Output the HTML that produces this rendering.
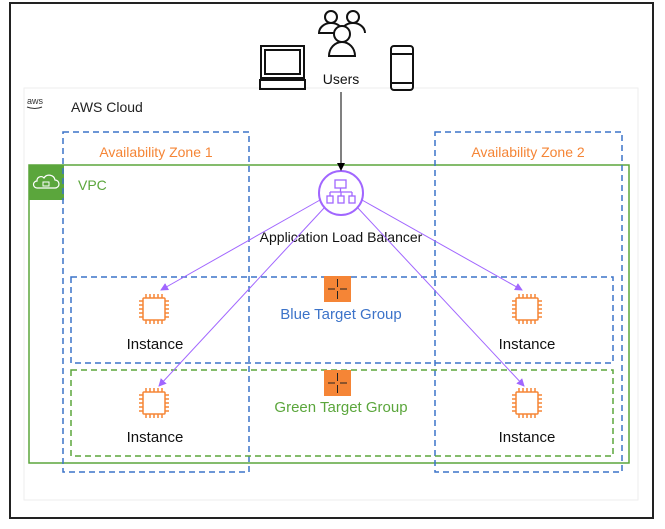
<!DOCTYPE html>
<html><head><style>
body{margin:0;background:#fff;}
svg text{font-family:"Liberation Sans",sans-serif;}
</style></head><body>
<svg width="665" height="524" viewBox="0 0 665 524" xmlns="http://www.w3.org/2000/svg">
<defs>
<marker id="ap" markerWidth="8" markerHeight="8" refX="7" refY="4" orient="auto" markerUnits="userSpaceOnUse"><path d="M0,0 L8,4 L0,8 z" fill="#a166ff"/></marker>
<marker id="ab" markerWidth="8" markerHeight="8" refX="7" refY="4" orient="auto" markerUnits="userSpaceOnUse"><path d="M0,0 L8,4 L0,8 z" fill="#000"/></marker>
<g id="chip" fill="none" stroke="#f58536" stroke-width="1.5">
<rect x="-11" y="-11" width="22" height="22" rx="1"/>
<path d="M-8,-11v-4M-4,-11v-4M0,-11v-4M4,-11v-4M8,-11v-4M-8,11v4M-4,11v4M0,11v4M4,11v4M8,11v4M-11,-8h-4M-11,-4h-4M-11,0h-4M-11,4h-4M-11,8h-4M11,-8h4M11,-4h4M11,0h4M11,4h4M11,8h4"/>
</g>
<g id="tg">
<rect x="0" y="0" width="27" height="26" fill="#f58536"/>
<path d="M13.5,3v8M13.5,15v8M4,13h7M16,13h7" stroke="#222" stroke-width="1"/>
</g>
</defs>
<rect x="10" y="3" width="643" height="515" fill="#fff" stroke="#222" stroke-width="2"/>
<rect x="24" y="88" width="614" height="412" fill="none" stroke="#eee" stroke-width="1"/>
<text x="27" y="104" font-size="9" fill="#333">aws</text>
<path d="M27,107 q8,3 15,0" stroke="#333" fill="none" stroke-width="1"/>
<text x="71" y="112" font-size="14" fill="#222">AWS Cloud</text>
<rect x="29" y="165" width="600" height="298" fill="none" stroke="#5ba63c" stroke-width="1.5"/>
<rect x="29" y="165" width="35" height="35" fill="#5ba63c"/>
<path d="M37,188 h18 a4,4 0 0 0 0,-8 a6,6 0 0 0 -11,-2 a4,4 0 0 0 -7,3 a3.5,3.5 0 0 0 0,7z" fill="none" stroke="#fff" stroke-width="1.2"/>
<rect x="43" y="182" width="6" height="4" fill="none" stroke="#fff" stroke-width="1"/>
<text x="78" y="190" font-size="14" fill="#5ba63c">VPC</text>
<rect x="63" y="132" width="186" height="340" fill="none" stroke="#3c73c9" stroke-width="1.5" stroke-dasharray="6,4"/>
<rect x="435" y="132" width="187" height="340" fill="none" stroke="#3c73c9" stroke-width="1.5" stroke-dasharray="6,4"/>
<text x="156" y="157" font-size="14" fill="#f58536" text-anchor="middle">Availability Zone 1</text>
<text x="528" y="157" font-size="14" fill="#f58536" text-anchor="middle">Availability Zone 2</text>
<rect x="71" y="277" width="542" height="86" fill="none" stroke="#3c73c9" stroke-width="1.5" stroke-dasharray="6,4"/>
<rect x="71" y="370" width="542" height="86" fill="none" stroke="#5ba63c" stroke-width="1.5" stroke-dasharray="6,4"/>
<use href="#tg" x="324" y="276"/>
<use href="#tg" x="324" y="370"/>
<text x="341" y="319" font-size="15" fill="#3c73c9" text-anchor="middle">Blue Target Group</text>
<text x="341" y="412" font-size="15" fill="#5ba63c" text-anchor="middle">Green Target Group</text>
<use href="#chip" x="154" y="309"/>
<use href="#chip" x="527" y="309"/>
<use href="#chip" x="154" y="403"/>
<use href="#chip" x="527" y="403"/>
<g font-size="15" fill="#111" text-anchor="middle">
<text x="155" y="349">Instance</text>
<text x="527" y="349">Instance</text>
<text x="155" y="442">Instance</text>
<text x="527" y="442">Instance</text>
</g>
<circle cx="341" cy="193" r="22" fill="#fff" stroke="#a166ff" stroke-width="2"/>
<g fill="none" stroke="#a166ff" stroke-width="1.3">
<rect x="335" y="180" width="11" height="8"/>
<path d="M340.5,188v4M330,192h22M330,192v4M341,192v4M352,192v4"/>
<rect x="327" y="196" width="6" height="7"/><rect x="338" y="196" width="6" height="7"/><rect x="349" y="196" width="6" height="7"/>
</g>
<text x="341" y="242" font-size="14" fill="#111" text-anchor="middle">Application Load Balancer</text>
<g stroke="#a166ff" stroke-width="1" fill="none">
<line x1="320" y1="200" x2="161" y2="290" marker-end="url(#ap)"/>
<line x1="325" y1="207" x2="159" y2="386" marker-end="url(#ap)"/>
<line x1="362" y1="200" x2="522" y2="290" marker-end="url(#ap)"/>
<line x1="357" y1="207" x2="524" y2="386" marker-end="url(#ap)"/>
</g>
<line x1="341" y1="92" x2="341" y2="170" stroke="#000" stroke-width="1" marker-end="url(#ab)"/>
<g fill="none" stroke="#111" stroke-width="2">
<circle cx="331" cy="17" r="6"/><circle cx="353" cy="17" r="6"/>
<path d="M319,33 a12,10 0 0 1 24,0z M341,33 a12,10 0 0 1 24,0"/>
<path d="M329,56 a13,14 0 0 1 26,0z" fill="#fff"/>
<circle cx="342" cy="34" r="8" fill="#fff"/>
<rect x="261" y="46" width="43" height="32"/><rect x="265" y="50" width="35" height="24"/>
<rect x="260" y="80" width="45" height="9"/>
<rect x="391" y="46" width="22" height="44" rx="3"/>
<path d="M391,54h22M391,83h22"/>
</g>
<text x="341" y="84" font-size="14" fill="#111" text-anchor="middle">Users</text>
</svg>
</body></html>
